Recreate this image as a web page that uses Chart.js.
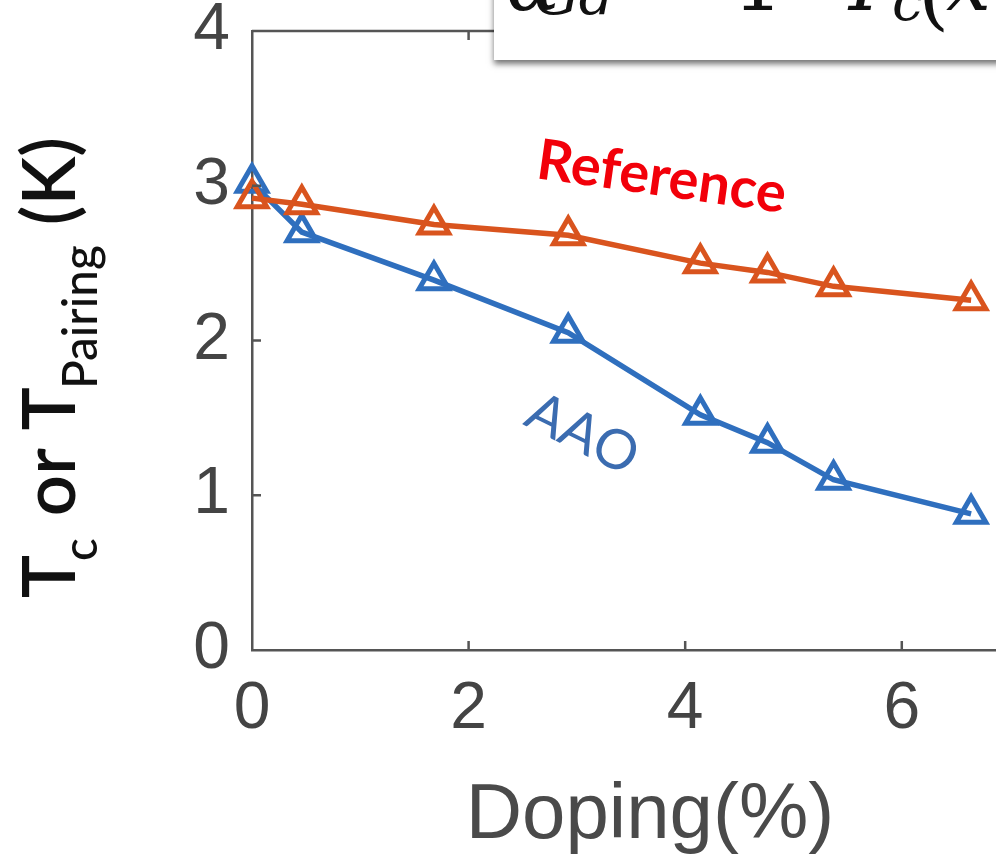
<!DOCTYPE html>
<html>
<head>
<meta charset="utf-8">
<script src="https://cdn.jsdelivr.net/npm/chart.js@4.4.1/dist/chart.umd.min.js"></script>
<style>
  html, body { margin: 0; padding: 0; background: white; }
  #wrap { width: 996px; height: 861px; position: relative; }
</style>
</head>
<body>
<div id="wrap"><canvas id="myChart" width="996" height="861"></canvas></div>
<script>
// values
const doping = [0, 0.46, 1.68, 2.92, 4.14, 4.76, 5.37, 6.64];
const tcReference = [2.92, 2.88, 2.75, 2.68, 2.50, 2.44, 2.35, 2.26];
const tcAAO = [3.02, 2.70, 2.39, 2.05, 1.52, 1.34, 1.10, 0.88];
const xTicks = [0, 2, 4, 6];
const yTicks = [0, 1, 2, 3, 4];

const orange = '#D9541E';
const blue = '#2F6FBE';
const axisGray = '#555555';

const toPoints = (xs, ys) => xs.map((x, i) => ({ x: x, y: ys[i] }));

const ctx = document.getElementById('myChart').getContext('2d');

const decorations = {
    id: 'decorations',
    afterDraw: (chart) => {
        const c = chart.ctx;
        const area = chart.chartArea;
        const xs = chart.scales.x;
        const ys = chart.scales.y;
        c.save();

        // top border + inward ticks
        c.strokeStyle = axisGray;
        c.lineWidth = 2.5;
        c.beginPath();
        c.moveTo(area.left, area.top);
        c.lineTo(area.right, area.top);
        xTicks.forEach(v => {
            const px = xs.getPixelForValue(v);
            if (v !== 0) {
                c.moveTo(px, area.bottom);
                c.lineTo(px, area.bottom - 9);
                c.moveTo(px, area.top);
                c.lineTo(px, area.top + 9);
            }
        });
        yTicks.forEach(v => {
            const py = ys.getPixelForValue(v);
            if (v !== 0 && v !== 4) {
                c.moveTo(area.left, py);
                c.lineTo(area.left + 9, py);
            }
        });
        c.stroke();

        // annotation labels
        c.save();
        c.translate(535, 178);
        c.rotate(8 * Math.PI / 180);
        c.fillStyle = '#F2000A';
        c.font = 'bold 56px Lato';
        c.textBaseline = 'alphabetic';
        c.fillText('Reference', 0, 0);
        c.restore();

        c.save();
        c.translate(522, 424);
        c.rotate(26.5 * Math.PI / 180);
        c.fillStyle = '#3B6CB0';
        c.font = '400 55px Lato';
        c.fillText('AAO', 0, 0);
        c.restore();

        // x title
        c.fillStyle = '#4A4A4A';
        c.font = '78px "Liberation Sans"';
        c.textAlign = 'center';
        c.textBaseline = 'alphabetic';
        c.fillText('Doping(%)', 650, 838);

        // y title with subscripts
        c.save();
        c.translate(75, 598);
        c.rotate(-Math.PI / 2);
        c.fillStyle = '#111111';
        c.textAlign = 'left';
        const parts = [
            { t: 'T', sub: false, kern: 0 },
            { t: 'c', sub: true, kern: -6 },
            { t: ' or T', sub: false, kern: 4 },
            { t: 'Pairing', sub: true, kern: -2 },
            { t: ' (K)', sub: false, kern: 2 }
        ];
        const fontFor = (p, k) => p.sub ? '500 ' + (50 * k) + 'px Lato' : '600 ' + (76 * k) + 'px Lato';
        const measure = (k) => {
            let w = 0;
            parts.forEach(p => {
                c.font = fontFor(p, k);
                w += c.measureText(p.t).width + p.kern;
            });
            return w;
        };
        const k = 461 / measure(1);
        let pos = 0;
        parts.forEach(p => {
            c.font = fontFor(p, k);
            pos += p.kern;
            c.fillText(p.t, pos, p.sub ? 22 : 0);
            pos += c.measureText(p.t).width;
        });
        c.restore();

        // formula box at the top, mostly cut off
        c.save();
        c.shadowColor = 'rgba(0,0,0,0.55)';
        c.shadowBlur = 6;
        c.shadowOffsetY = 4;
        c.fillStyle = 'white';
        c.fillRect(494, -20, 600, 80);
        c.restore();
        c.fillStyle = '#111111';
        c.textAlign = 'left';
        c.textBaseline = 'alphabetic';
        c.font = 'italic 80px "DejaVu Serif"';
        c.fillText('α', 506, 10);
        c.font = 'italic 56px "DejaVu Serif"';
        c.fillText('Gd', 534, 14);
        c.font = '80px "DejaVu Serif"';
        c.fillText('= 1 −', 640, 10);
        c.font = 'italic 80px "DejaVu Serif"';
        c.fillText('T', 838, 10);
        c.font = 'italic 56px "DejaVu Serif"';
        c.fillText('c', 892, 20);
        c.font = '80px "DejaVu Serif"';
        c.fillText('(', 918, 20);
        c.font = 'italic 80px "DejaVu Serif"';
        c.fillText('x', 946, 10);

        c.restore();
    }
};

const myChart = new Chart(ctx, {
    type: 'line',
    data: {
        datasets: [{
            label: 'Reference',
            data: toPoints(doping, tcReference),
            borderColor: orange,
            borderWidth: 5.5,
            pointStyle: 'triangle',
            pointRadius: 17,
            pointBorderWidth: 5,
            pointBorderColor: orange,
            pointBackgroundColor: 'rgba(0,0,0,0)',
            clip: false
        }, {
            label: 'AAO',
            data: toPoints(doping, tcAAO),
            borderColor: blue,
            borderWidth: 5.5,
            pointStyle: 'triangle',
            pointRadius: 17,
            pointBorderWidth: 5,
            pointBorderColor: blue,
            pointBackgroundColor: 'rgba(0,0,0,0)',
            clip: false
        }]
    },
    options: {
        responsive: false,
        animation: false,
        layout: {
            autoPadding: false,
            padding: { left: 0, right: 0, top: 31, bottom: 0 }
        },
        scales: {
            x: {
                type: 'linear',
                min: 0,
                max: 6.87,
                afterFit: (scale) => {
                    scale.height = 211;
                    scale.paddingLeft = 0;
                    scale.paddingRight = 0;
                },
                afterBuildTicks: (scale) => { scale.ticks = xTicks.map(v => ({ value: v })); },
                grid: { display: false, drawTicks: false },
                border: { display: true, color: axisGray, width: 2.5 },
                ticks: {
                    padding: 20,
                    color: '#444444',
                    font: { family: 'Liberation Sans', size: 66 }
                }
            },
            y: {
                min: 0,
                max: 4,
                afterFit: (scale) => {
                    scale.width = 252;
                    scale.paddingTop = 0;
                    scale.paddingBottom = 0;
                },
                afterBuildTicks: (scale) => { scale.ticks = yTicks.map(v => ({ value: v })); },
                grid: { display: false, drawTicks: false },
                border: { display: true, color: axisGray, width: 2.5 },
                ticks: {
                    padding: 22,
                    color: '#444444',
                    font: { family: 'Liberation Sans', size: 66 }
                }
            }
        },
        plugins: {
            legend: { display: false },
            tooltip: { enabled: false }
        }
    },
    plugins: [{
        id: 'background-colour',
        beforeDraw: (chart) => {
            const c = chart.canvas.getContext('2d');
            c.fillStyle = 'white';
            c.fillRect(0, 0, chart.width, chart.height);
        }
    }, decorations]
});
</script>
</body>
</html>
